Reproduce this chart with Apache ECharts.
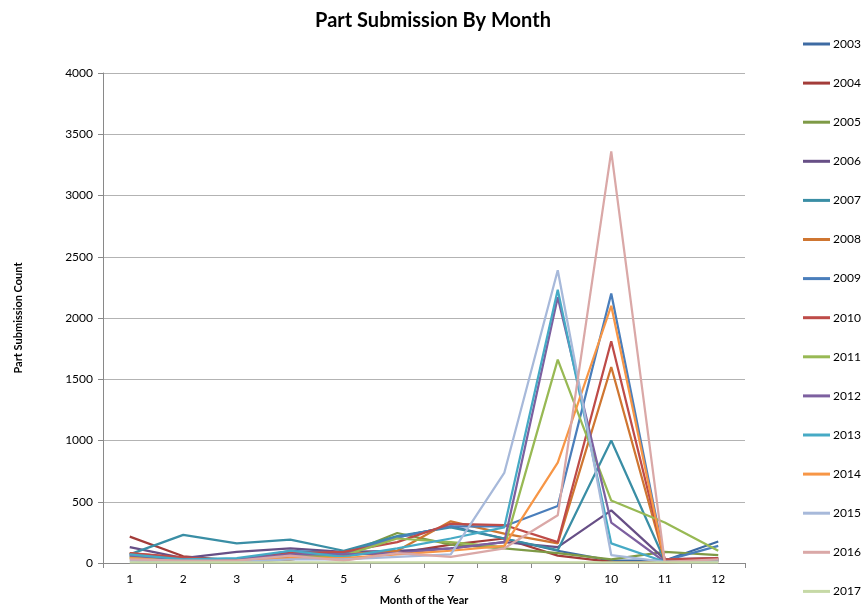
<!DOCTYPE html>
<html>
<head>
<meta charset="utf-8">
<script src="https://cdn.jsdelivr.net/npm/echarts@6/dist/echarts.min.js"></script>
<style>
    html, body { margin: 0; padding: 0; background: #fff; }
    #chart { width: 866px; height: 609px; }
</style>
</head>
<body>
<div id="chart"></div>
<script>
var months = ['1', '2', '3', '4', '5', '6', '7', '8', '9', '10', '11', '12'];
var years = ['2003', '2004', '2005', '2006', '2007', '2008', '2009', '2010',
    '2011', '2012', '2013', '2014', '2015', '2016', '2017'];
var colors = ['#3E6BA3', '#A33C39', '#7E9A46', '#674F86', '#3A8EA5', '#CF7631',
    '#4A7EBB', '#BE4B48', '#98B954', '#7D60A0', '#46AAC5', '#F79646',
    '#A7B9DA', '#DAA8A7', '#C6D9A6'];

var v2003 = [60, 20, 15, 90, 80, 210, 300, 200, 100, 20, 20, 175];
var v2004 = [215, 55, 20, 50, 70, 80, 150, 200, 60, 10, 5, 20];
var v2005 = [40, 10, 5, 30, 70, 245, 150, 120, 80, 30, 90, 65];
var v2006 = [130, 40, 90, 120, 90, 100, 120, 170, 130, 430, 30, 40];
var v2007 = [70, 230, 160, 190, 100, 220, 290, 200, 105, 1000, 20, 30];
var v2008 = [80, 40, 15, 30, 70, 100, 340, 240, 160, 1600, 20, 30];
var v2009 = [70, 30, 20, 100, 80, 210, 300, 300, 465, 2200, 20, 140];
var v2010 = [80, 45, 20, 80, 90, 170, 320, 310, 170, 1810, 30, 40];
var v2011 = [50, 20, 10, 60, 60, 200, 170, 130, 1660, 510, 330, 100];
var v2012 = [60, 30, 30, 70, 70, 80, 120, 170, 2170, 330, 10, 20];
var v2013 = [70, 30, 40, 100, 50, 120, 200, 290, 2230, 160, 10, 20];
var v2014 = [40, 10, 20, 40, 40, 70, 100, 140, 820, 2100, 10, 10];
var v2015 = [20, 10, 10, 30, 30, 50, 70, 735, 2390, 65, 10, 10];
var v2016 = [30, 20, 20, 60, 20, 80, 50, 120, 390, 3360, 10, 30];
var v2017 = [5, 5, 5, 5, 5, 5, 5, 5, 5, 5, 5, 5];

var values = [v2003, v2004, v2005, v2006, v2007, v2008, v2009, v2010,
    v2011, v2012, v2013, v2014, v2015, v2016, v2017];

var font = 'Lato, "Open Sans", sans-serif';

var chart = echarts.init(document.getElementById('chart'));
var option = {
    animation: false,
    color: colors,
    textStyle: { fontFamily: font },
    title: {
        text: 'Part Submission By Month',
        left: 'center',
        top: 6,
        textStyle: { fontFamily: font, fontSize: 20, fontWeight: 'bold', color: '#000' }
    },
    legend: {
        orient: 'vertical',
        left: 798,
        top: 32,
        itemWidth: 27,
        itemHeight: 3,
        itemGap: 25.1,
        icon: 'rect',
        data: years,
        textStyle: { fontFamily: font, fontSize: 12, color: '#000', lineHeight: 14, padding: [0, 0, 0, -2] }
    },
    grid: {
        left: 103,
        right: 121,
        top: 73,
        bottom: 46,
        outerBoundsMode: 'none'
    },
    xAxis: {
        type: 'category',
        data: months,
        boundaryGap: true,
        name: 'Month of the Year',
        nameLocation: 'middle',
        nameGap: 32,
        nameTextStyle: { fontFamily: font, fontSize: 11, fontWeight: 'bold', color: '#000' },
        axisLine: { lineStyle: { color: '#898989', width: 1 } },
        axisTick: { show: true, length: 5, lineStyle: { color: '#898989' } },
        axisLabel: { color: '#000', fontSize: 12, margin: 10 }
    },
    yAxis: {
        type: 'value',
        min: 0,
        max: 4000,
        interval: 500,
        name: 'Part Submission Count',
        nameLocation: 'middle',
        nameRotate: 90,
        nameGap: 79,
        nameTextStyle: { fontFamily: font, fontSize: 11, fontWeight: 'bold', color: '#000' },
        axisLine: { show: true, lineStyle: { color: '#898989', width: 1 } },
        axisTick: { show: true, length: 5, lineStyle: { color: '#898989' } },
        axisLabel: { color: '#000', fontSize: 12, margin: 10, formatter: function (v) { return String(v); } },
        splitLine: { lineStyle: { color: '#B3B3B3', width: 1 } }
    },
    series: years.map(function (y, i) {
        return {
            name: y,
            type: 'line',
            data: values[i],
            showSymbol: false,
            symbol: 'none',
            lineStyle: { width: 2.25 }
        };
    })
};
chart.setOption(option);
</script>
</body>
</html>
